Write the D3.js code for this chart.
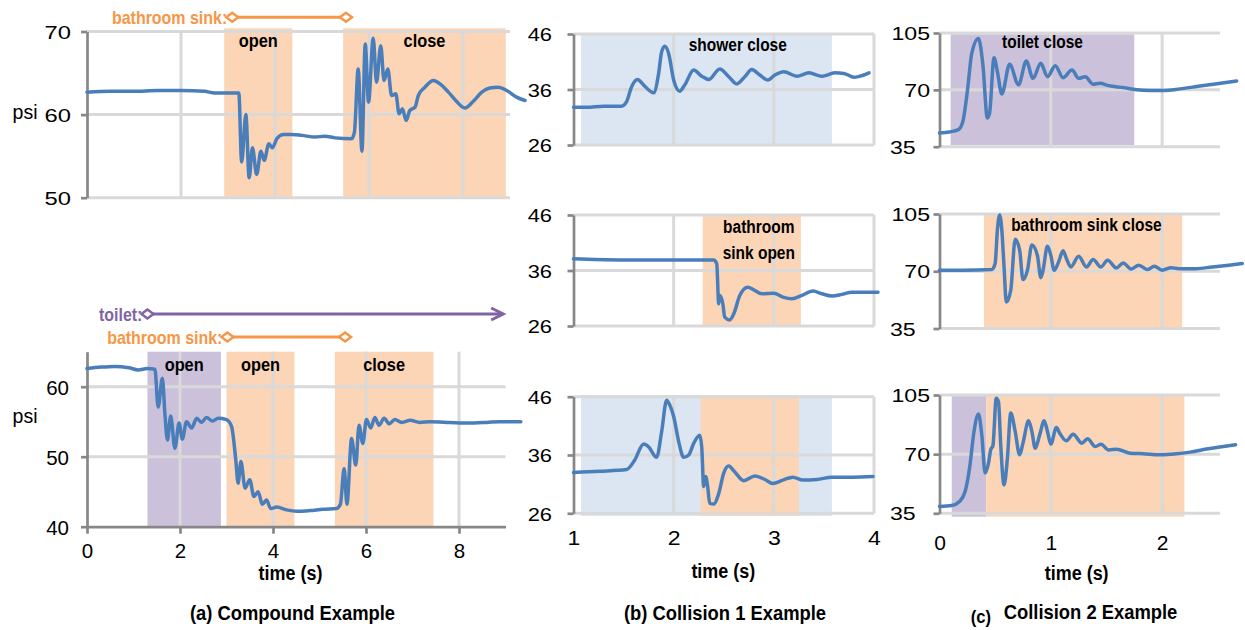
<!DOCTYPE html>
<html>
<head>
<meta charset="utf-8">
<script src="https://cdn.jsdelivr.net/npm/d3@7/dist/d3.min.js"></script>
<style>
  html, body { margin: 0; padding: 0; background: #fff; }
  svg { display: block; }
</style>
</head>
<body>
<svg id="chart" width="1245" height="630"></svg>
<script>
// ---------------- data: pressure traces, [time (s), psi] ----------------
// (a) compound example: bathroom sink open, then close
const aTopTrace = [[0,62.7],[0.5,62.8],[1.0,62.8],[1.5,62.9],[2.0,62.9],[2.5,62.8],[2.72,62.6],[3.23,62.6],
  [3.29,54.3],[3.38,60.0],[3.45,52.4],[3.52,56.0],[3.61,52.8],[3.70,55.6],[3.77,54.5],[3.87,56.5],[3.94,56.0],
  [4.04,57.1],[4.18,57.6],[4.36,57.6],[4.57,57.5],[4.85,57.3],[5.06,57.4],[5.28,57.2],[5.63,57.1],[5.69,57.9],
  [5.77,65.5],[5.85,55.6],[5.92,68.5],[5.99,61.5],[6.09,69.2],[6.16,63.9],[6.25,68.3],[6.32,64.1],[6.40,65.5],
  [6.48,62.3],[6.57,62.5],[6.64,60.1],[6.71,60.7],[6.79,59.3],[6.87,60.5],[6.98,60.9],[7.05,62.3],[7.19,63.3],
  [7.37,64.1],[7.51,63.7],[7.69,62.7],[7.86,61.6],[8.04,60.8],[8.22,61.6],[8.40,62.7],[8.57,63.2],[8.75,63.3],
  [8.93,62.9],[9.14,62.1],[9.32,61.7]];
// (a) compound example: toilet open, bathroom sink open and close
const aBotTrace = [[0,62.6],[0.3,62.8],[0.6,62.9],[0.9,62.7],[1.1,62.4],[1.3,62.6],[1.46,62.5],[1.53,57.1],
  [1.62,61.2],[1.68,55.7],[1.73,52.4],[1.80,55.8],[1.89,51.2],[1.98,54.8],[2.05,52.5],[2.14,55.0],[2.25,54.1],
  [2.36,55.5],[2.46,54.9],[2.57,55.6],[2.70,55.1],[2.82,55.5],[3.00,55.3],[3.11,54.3],[3.20,49.5],[3.25,46.2],
  [3.31,49.3],[3.40,45.5],[3.50,46.7],[3.59,44.3],[3.68,45.0],[3.77,43.2],[3.86,43.8],[3.95,42.6],[4.08,42.8],
  [4.29,42.4],[4.51,42.2],[4.79,42.3],[5.08,42.5],[5.37,42.6],[5.45,43.2],[5.53,48.3],[5.59,43.2],[5.69,52.6],
  [5.78,48.8],[5.85,54.5],[5.93,51.9],[6.01,55.3],[6.10,54.1],[6.19,55.6],[6.28,54.5],[6.39,55.5],[6.50,54.7],
  [6.62,55.3],[6.77,54.9],[6.95,55.2],[7.16,54.9],[7.37,55.0],[7.8,54.9],[8.17,54.8],[8.6,54.9],[8.88,55.0],[9.33,55.0]];
// (b) collision 1: shower close / bathroom sink open / both together
const bTopTrace = [[1.0,32.8],[1.13,32.8],[1.30,33.0],[1.48,33.0],[1.53,33.8],[1.58,36.5],[1.64,37.8],[1.70,36.8],
  [1.80,35.4],[1.85,38.9],[1.88,42.8],[1.91,43.8],[1.95,42.5],[2.00,37.7],[2.06,35.7],[2.11,36.8],[2.20,39.5],
  [2.28,38.4],[2.35,37.8],[2.46,39.7],[2.55,38.3],[2.63,37.0],[2.71,38.3],[2.78,39.6],[2.86,38.6],[2.94,37.7],
  [3.01,38.6],[3.10,39.2],[3.23,38.4],[3.35,39.0],[3.48,38.4],[3.61,39.0],[3.70,38.9],[3.80,38.2],[3.86,38.4],[3.95,39.0]];
const bMidTrace = [[1.0,38.1],[1.46,37.9],[1.96,37.9],[2.40,37.9],[2.43,37.2],[2.45,30.0],[2.46,31.5],[2.49,30.1],
  [2.51,27.6],[2.56,27.1],[2.60,28.2],[2.66,31.5],[2.74,33.0],[2.80,32.5],[2.88,31.8],[3.0,31.9],[3.09,31.2],
  [3.18,30.9],[3.28,31.5],[3.39,32.3],[3.48,31.8],[3.58,31.4],[3.68,31.7],[3.78,32.1],[3.93,32.1],[4.04,32.1]];
const bBotTrace = [[1.0,33.0],[1.26,33.2],[1.53,33.5],[1.61,35.1],[1.70,37.9],[1.75,37.4],[1.83,35.6],[1.88,40.0],
  [1.93,45.4],[1.96,44.6],[2.0,42.6],[2.05,38.3],[2.10,35.6],[2.15,36.0],[2.20,38.0],[2.26,39.4],[2.28,37.4],
  [2.30,30.6],[2.32,32.3],[2.34,30.5],[2.36,27.7],[2.40,27.6],[2.45,29.4],[2.50,32.9],[2.55,34.1],[2.60,33.3],
  [2.70,31.6],[2.81,32.4],[2.91,31.8],[2.99,31.1],[3.09,31.7],[3.19,32.2],[3.29,31.7],[3.43,31.8],[3.58,32.2],
  [3.79,32.2],[3.99,32.3]];
// (c) collision 2: toilet close / bathroom sink close / both together
const cTopTrace = [[0,43.5],[0.09,44.1],[0.17,45.5],[0.21,50.6],[0.25,69.0],[0.29,92.4],[0.35,101.6],[0.39,85.3],
  [0.43,52.7],[0.45,55.7],[0.49,89.8],[0.52,81.2],[0.56,67.4],[0.63,85.7],[0.71,73.1],[0.78,87.7],[0.84,77.1],
  [0.91,86.3],[0.97,78.1],[1.04,84.9],[1.11,77.5],[1.19,82.2],[1.25,77.1],[1.31,78.1],[1.38,73.5],[1.44,74.1],
  [1.52,72.6],[1.65,71.4],[1.77,70.0],[1.89,69.6],[2.01,69.6],[2.16,70.6],[2.31,72.0],[2.46,73.5],[2.67,75.5]];
const cMidTrace = [[0,70.6],[0.21,70.6],[0.47,71.0],[0.50,74.7],[0.52,95.2],[0.54,104.4],[0.56,95.2],[0.58,72.6],
  [0.60,51.2],[0.64,58.3],[0.68,89.5],[0.72,82.9],[0.75,64.9],[0.79,70.6],[0.83,86.0],[0.88,79.5],[0.91,66.1],
  [0.93,70.6],[0.97,85.3],[1.00,79.8],[1.03,70.6],[1.07,75.7],[1.11,82.5],[1.14,77.8],[1.18,72.6],[1.25,79.2],
  [1.32,72.6],[1.38,77.2],[1.45,72.6],[1.51,76.7],[1.59,72.0],[1.65,75.1],[1.72,71.4],[1.79,73.7],[1.87,71.0],
  [1.93,73.1],[2.00,70.6],[2.08,72.2],[2.15,71.6],[2.30,71.6],[2.45,72.6],[2.60,73.7],[2.72,74.7]];
const cBotTrace = [[0,39.0],[0.11,39.6],[0.18,42.0],[0.23,47.9],[0.27,61.7],[0.31,83.4],[0.35,93.7],[0.38,81.4],
  [0.41,58.8],[0.44,64.7],[0.46,72.5],[0.48,75.1],[0.51,103.1],[0.53,101.0],[0.55,75.5],[0.58,51.8],[0.61,67.6],
  [0.64,94.3],[0.68,83.4],[0.72,69.6],[0.75,76.5],[0.80,89.7],[0.83,83.4],[0.86,73.5],[0.90,81.4],[0.94,89.7],
  [0.97,83.4],[1.00,75.9],[1.05,85.7],[1.08,82.4],[1.14,77.9],[1.20,81.8],[1.28,76.5],[1.33,79.1],[1.40,74.5],
  [1.45,75.9],[1.52,72.5],[1.59,72.9],[1.71,70.6],[1.83,70.2],[1.98,69.6],[2.13,70.2],[2.25,71.2],[2.40,73.0],
  [2.55,74.5],[2.66,75.5]];

// ---------------- data: fixture event windows (s) ----------------
const aTopEvents = [{kind:'sink', from:2.92, to:4.37, label:'open'}, {kind:'sink', from:5.45, to:8.91, label:'close'}];
const aBotEvents = [{kind:'toilet', from:1.30, to:2.88, label:'open'}, {kind:'sink', from:3.00, to:4.46, label:'open'},
  {kind:'sink', from:5.33, to:7.45, label:'close'}];
const bTopEvents = [{kind:'shower', from:1.075, to:3.58, label:'shower close'}];
const bMidEvents = [{kind:'sink', from:2.29, to:3.27, label:'bathroom\nsink open'}];
const bBotEvents = [{kind:'shower', from:1.075, to:3.58}, {kind:'sink', from:2.27, to:3.25}];
const cTopEvents = [{kind:'toilet', from:0.10, to:1.75, label:'toilet close'}];
const cMidEvents = [{kind:'sink', from:0.40, to:2.18, label:'bathroom sink close'}];
const cBotEvents = [{kind:'toilet', from:0.11, to:0.42}, {kind:'sink', from:0.42, to:2.20}];

// fixture activity spans shown as arrows above panel (a)
const aTopSpans = [{kind:'sink', text:'bathroom sink:', from:3.09, to:5.51, end:'diamond'}];
const aBotSpans = [{kind:'toilet', text:'toilet:', from:1.30, to:8.95, end:'arrow'},
  {kind:'sink', text:'bathroom sink:', from:3.02, to:5.55, end:'diamond'}];

// ---------------- data: ticks ----------------
const aTopYTicks = [50, 60, 70];
const aBotYTicks = [40, 50, 60];
const aXTicks = [0, 2, 4, 6, 8];
const bYTicks = [26, 36, 46];
const bXTicks = [1, 2, 3, 4];
const cYTicks = [35, 70, 105];
const cXTicks = [0, 1, 2];
const titles = ['(a) Compound Example', '(b) Collision 1 Example', '(c)', 'Collision 2 Example'];

// ---------------- styling ----------------
const FILL = {sink:'#fbd5b6', toilet:'#ccc1da', shower:'#dce6f2'};
const INK = {sink:'#f79646', toilet:'#8064a2'};
const LINE = '#4a7ebb', GRID = '#d9d9d9', AXIS = '#878787';
const FONT = '"Liberation Sans", Arial, Helvetica, sans-serif';

const svg = d3.select('#chart');

// narrow or widen glyphs horizontally by a factor, keeping the anchor point
function squeeze(sel, sx) {
  if (!sx || sx === 1) return;
  sel.each(function () {
    const len = this.getComputedTextLength();
    d3.select(this).attr('textLength', len * sx).attr('lengthAdjust', 'spacingAndGlyphs');
  });
}

function txt(parent, x, y, str, o) {
  const t = parent.append('text')
    .attr('x', x).attr('y', y)
    .attr('text-anchor', o.anchor || 'middle')
    .attr('fill', o.fill || '#000')
    .style('font-family', FONT)
    .style('font-weight', o.bold ? 'bold' : 'normal')
    .style('font-size', o.size + 'px')
    .text(str);
  squeeze(t, o.sx);
  return t;
}

function panel(c) {
  const g = svg.append('g');
  const x = d3.scaleLinear().domain(c.xDomain).range([c.left, c.right]);
  const y = d3.scaleLinear().domain(c.yDomain).range([c.bottom, c.top]);

  // event windows
  g.selectAll('rect.ev').data(c.events).join('rect').attr('class', 'ev')
    .attr('x', d => x(d.from)).attr('width', d => x(d.to) - x(d.from))
    .attr('y', c.shadeTop).attr('height', c.shadeBottom - c.shadeTop)
    .attr('fill', d => FILL[d.kind]);

  // gridlines
  g.selectAll('line.hg').data(c.hGrid).join('line').attr('class', 'hg')
    .attr('x1', c.left).attr('x2', c.right)
    .attr('y1', d => y(d)).attr('y2', d => y(d))
    .attr('stroke', GRID).attr('stroke-width', 3);
  g.selectAll('line.vg').data(c.vGrid).join('line').attr('class', 'vg')
    .attr('x1', d => x(d)).attr('x2', d => x(d))
    .attr('y1', c.top).attr('y2', c.bottom)
    .attr('stroke', GRID).attr('stroke-width', 3);

  // event captions
  c.events.filter(d => d.label).forEach(d => {
    const cx = c.labelT != null ? x(c.labelT) : (x(d.from) + x(d.to)) / 2;
    d.label.split('\n').forEach((line, i) => {
      txt(g, cx, c.labelBase + i * (c.labelStep || 0), line, {size: c.labelSize, sx: 0.86, bold: true});
    });
  });

  // y axis
  const ls = c.yLab;
  const yg = g.append('g').attr('transform', `translate(${c.left},0)`)
    .call(d3.axisLeft(y).tickValues(c.yTicks).tickFormat(d3.format('d')).tickSize(6).tickSizeOuter(0));
  yg.select('.domain').attr('stroke', AXIS).attr('stroke-width', 2.7);
  yg.selectAll('.tick line').attr('stroke', AXIS).attr('stroke-width', 2.7);
  const yt = yg.selectAll('.tick text')
    .attr('x', -ls.gap).attr('dy', '0.36em')
    .attr('fill', '#000')
    .style('font-family', FONT).style('font-size', ls.size + 'px')
    .each(function (d) {
      if (ls.lowStart && d === c.yTicks[0]) {
        d3.select(this).attr('text-anchor', 'start').attr('x', -ls.lowStart);
      }
    });
  squeeze(yt, ls.sx);

  // x axis
  if (c.xAxis) {
    const xa = c.xAxis;
    const xg = g.append('g').attr('transform', `translate(0,${c.bottom})`)
      .call(d3.axisBottom(x).tickValues(xa.ticks).tickFormat(d3.format('d'))
        .tickSize(xa.line ? 7 : 0).tickSizeOuter(0)
        .tickPadding(xa.base - c.bottom - (xa.line ? 7 : 0) - 0.71 * xa.size));
    if (xa.line) {
      xg.select('.domain').attr('stroke', AXIS).attr('stroke-width', 2.7);
      xg.selectAll('.tick line').attr('stroke', AXIS).attr('stroke-width', 2.7);
    } else {
      xg.select('.domain').remove();
      xg.selectAll('.tick line').remove();
    }
    const xt = xg.selectAll('.tick text').attr('fill', '#000')
      .style('font-family', FONT).style('font-size', xa.size + 'px');
    squeeze(xt, xa.sx);
  }

  // pressure trace
  const path = d3.line().x(d => x(d[0])).y(d => y(d[1])).curve(d3.curveMonotoneX);
  g.append('path').datum(c.trace).attr('d', path)
    .attr('fill', 'none').attr('stroke', LINE).attr('stroke-width', 3.5)
    .attr('stroke-linejoin', 'round').attr('stroke-linecap', 'round');

  // activity span arrows
  (c.spans || []).forEach((s, i) => {
    const ay = c.spanY[i], col = INK[s.kind];
    const x0 = x(s.from), x1 = x(s.to);
    g.append('line').attr('x1', x0).attr('x2', x1).attr('y1', ay).attr('y2', ay)
      .attr('stroke', col).attr('stroke-width', 3);
    const diamond = cx => `M${cx - 6},${ay}L${cx},${ay - 4.5}L${cx + 6},${ay}L${cx},${ay + 4.5}Z`;
    g.append('path').attr('d', diamond(x0)).attr('fill', '#fff').attr('stroke', col).attr('stroke-width', 2.5);
    if (s.end === 'diamond') {
      g.append('path').attr('d', diamond(x1)).attr('fill', '#fff').attr('stroke', col).attr('stroke-width', 2.5);
    } else {
      g.append('path').attr('d', `M${x1 - 12},${ay - 6}L${x1},${ay}L${x1 - 12},${ay + 6}`)
        .attr('fill', 'none').attr('stroke', col).attr('stroke-width', 3).attr('stroke-linejoin', 'miter');
    }
    txt(g, x0 - 5, ay + 7, s.text, {size: 19, sx: 0.84, bold: true, anchor: 'end', fill: col});
  });

  if (c.psi) txt(g, 25, c.psi, 'psi', {size: 19.5});
  return {x, y};
}

// ---------------- panels ----------------
const aX = [0, 9], bX = [1, 4], cX = [0, 2.52];

panel({left: 87, right: 510, top: 31.5, bottom: 197.7, xDomain: aX, yDomain: [50, 70],
  yTicks: aTopYTicks, hGrid: aTopYTicks, vGrid: aXTicks.slice(1), shadeTop: 28.3, shadeBottom: 197.7,
  events: aTopEvents, labelBase: 46.5, labelSize: 19, trace: aTopTrace,
  yLab: {size: 19, sx: 1.25, gap: 16}, spans: aTopSpans, spanY: [17.3], psi: 118.5});

panel({left: 87, right: 505.5, top: 351.7, bottom: 526.7, xDomain: aX, yDomain: [40, 65],
  yTicks: aBotYTicks, hGrid: [50, 60], vGrid: aXTicks.slice(1), shadeTop: 351.7, shadeBottom: 526.7,
  events: aBotEvents, labelBase: 371, labelSize: 19, trace: aBotTrace,
  yLab: {size: 20.5, sx: 1, gap: 18}, spans: aBotSpans, spanY: [314, 337], psi: 423,
  xAxis: {ticks: aXTicks, size: 20.5, sx: 1, base: 558.3, line: true}});

panel({left: 573.5, right: 874, top: 34, bottom: 145, xDomain: bX, yDomain: [26, 46],
  yTicks: bYTicks, hGrid: bYTicks, vGrid: [2, 3, 4], shadeTop: 33.3, shadeBottom: 146,
  events: bTopEvents, labelT: 2.64, labelBase: 50.7, labelSize: 18, trace: bTopTrace,
  yLab: {size: 19, sx: 1.15, gap: 21.5}});

panel({left: 573.5, right: 874, top: 215, bottom: 326, xDomain: bX, yDomain: [26, 46],
  yTicks: bYTicks, hGrid: bYTicks, vGrid: [2, 3, 4], shadeTop: 214, shadeBottom: 326,
  events: bMidEvents, labelT: 2.85, labelBase: 232.7, labelStep: 26.6, labelSize: 18, trace: bMidTrace,
  yLab: {size: 19, sx: 1.15, gap: 21.5}});

panel({left: 573.5, right: 874, top: 396.7, bottom: 513.3, xDomain: bX, yDomain: [26, 46],
  yTicks: bYTicks, hGrid: bYTicks, vGrid: [2, 3, 4], shadeTop: 395, shadeBottom: 516,
  events: bBotEvents, trace: bBotTrace,
  yLab: {size: 19, sx: 1.15, gap: 21.5},
  xAxis: {ticks: bXTicks, size: 20, sx: 1.15, base: 545, line: false}});

panel({left: 939.5, right: 1220, top: 33, bottom: 146.7, xDomain: cX, yDomain: [35, 105],
  yTicks: cYTicks, hGrid: cYTicks, vGrid: [1, 2], shadeTop: 34.3, shadeBottom: 145,
  events: cTopEvents, labelBase: 47.7, labelSize: 18, trace: cTopTrace,
  yLab: {size: 18.5, sx: 1.25, gap: 9.5, lowStart: 49.5}});

panel({left: 939.5, right: 1220, top: 214, bottom: 328.5, xDomain: cX, yDomain: [35, 105],
  yTicks: cYTicks, hGrid: cYTicks, vGrid: [1, 2], shadeTop: 214, shadeBottom: 329,
  events: cMidEvents, labelT: 1.32, labelBase: 230.7, labelSize: 18, trace: cMidTrace,
  yLab: {size: 18.5, sx: 1.25, gap: 9.5, lowStart: 49.5}});

panel({left: 939.5, right: 1220, top: 395, bottom: 513.3, xDomain: cX, yDomain: [35, 105],
  yTicks: cYTicks, hGrid: cYTicks, vGrid: [1, 2], shadeTop: 395, shadeBottom: 516.7,
  events: cBotEvents, trace: cBotTrace,
  yLab: {size: 18.5, sx: 1.25, gap: 9.5, lowStart: 49.5},
  xAxis: {ticks: cXTicks, size: 20, sx: 1.05, base: 550, line: false}});

// ---------------- axis titles and captions ----------------
txt(svg, 290.5, 580, 'time (s)', {size: 19.5, sx: 0.92, bold: true});
txt(svg, 723.3, 578, 'time (s)', {size: 19.5, sx: 0.92, bold: true});
txt(svg, 1076.7, 580, 'time (s)', {size: 19.5, sx: 0.92, bold: true});

txt(svg, 292.5, 620, titles[0], {size: 21, sx: 0.875, bold: true});
txt(svg, 725, 620, titles[1], {size: 21, sx: 0.875, bold: true});
txt(svg, 981, 623, titles[2], {size: 19, sx: 0.875, bold: true});
txt(svg, 1090.5, 619, titles[3], {size: 21, sx: 0.875, bold: true});
</script>
</body>
</html>
